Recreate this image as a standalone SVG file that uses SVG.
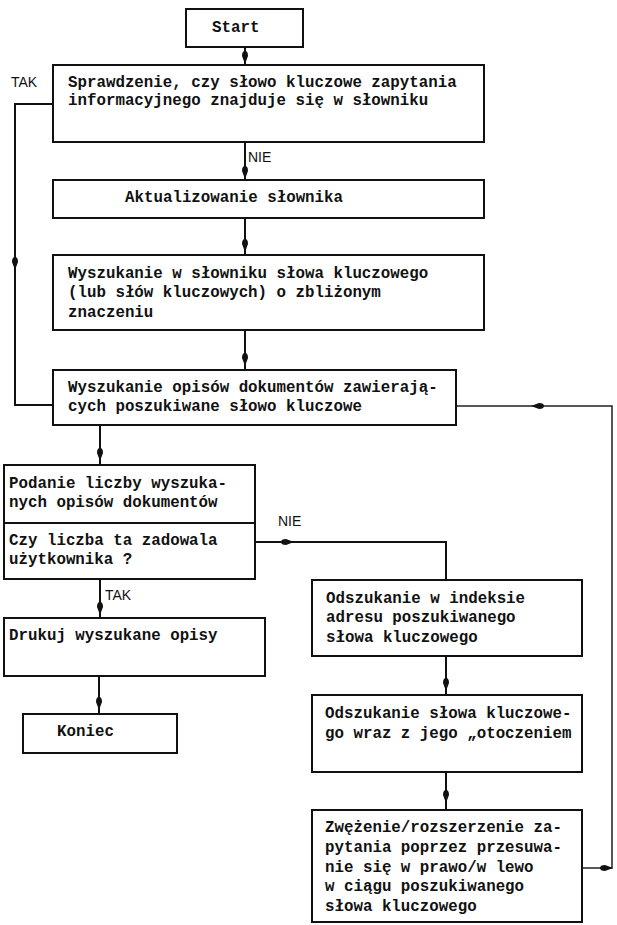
<svg xmlns="http://www.w3.org/2000/svg" xmlns:xlink="http://www.w3.org/1999/xlink" width="617" height="925" viewBox="0 0 617 925">
<style>
.box{fill:#fff;stroke:#111;stroke-width:2}
.ln{fill:none;stroke:#111;stroke-width:2}
.thin{fill:none;stroke:#222;stroke-width:1.5}
text{font-family:"Liberation Mono","DejaVu Sans Mono",monospace;font-size:15.8px;font-weight:bold;fill:#111}
.lbl{font-family:"Liberation Sans","DejaVu Sans",sans-serif;font-size:14px;font-weight:normal}
</style>
<defs>
<path id="ah" d="M0,0 L-3,-8 Q-3,-13 0,-13 Q3,-13 3,-8 Z" fill="#111"/>
</defs>
<rect width="617" height="925" fill="#fff"/>
<g id="connectors">
<line class="ln" x1="245" y1="47" x2="245" y2="65"/>
<use xlink:href="#ah" transform="translate(245,64)"/>
<line class="ln" x1="245" y1="142" x2="245" y2="180"/>
<use xlink:href="#ah" transform="translate(245,179)"/>
<text class="lbl" x="248" y="162">NIE</text>
<line class="ln" x1="245" y1="218" x2="245" y2="255"/>
<use xlink:href="#ah" transform="translate(245,252)"/>
<line class="ln" x1="245" y1="330" x2="245" y2="370"/>
<use xlink:href="#ah" transform="translate(245,366)"/>
<polyline class="ln" points="53,104 15,104 15,405 53,405"/>
<use xlink:href="#ah" transform="translate(15,270)"/>
<text class="lbl" x="11" y="87">TAK</text>
<polyline class="thin" points="456,406 612,406 612,868 582,868"/>
<use xlink:href="#ah" transform="translate(531,406) rotate(90)"/>
<use xlink:href="#ah" transform="translate(613,868) rotate(-90)"/>
<line class="ln" x1="100" y1="425" x2="100" y2="465"/>
<use xlink:href="#ah" transform="translate(100,461)"/>
<polyline class="ln" points="255,542 446,542 446,580"/>
<use xlink:href="#ah" transform="translate(294,542) rotate(-90)"/>
<text class="lbl" x="278" y="526">NIE</text>
<line class="ln" x1="100" y1="579" x2="100" y2="618"/>
<use xlink:href="#ah" transform="translate(100,615)"/>
<text class="lbl" x="105" y="600">TAK</text>
<line class="ln" x1="99" y1="676" x2="99" y2="714"/>
<use xlink:href="#ah" transform="translate(99,710)"/>
<line class="ln" x1="446" y1="656" x2="446" y2="695"/>
<use xlink:href="#ah" transform="translate(446,691)"/>
<line class="ln" x1="446" y1="772" x2="446" y2="810"/>
<use xlink:href="#ah" transform="translate(446,803)"/>
</g>
<g id="start">
<rect class="box" x="186" y="9" width="117" height="38"/>
<text x="212" y="32">Start</text>
</g>
<g id="check">
<rect class="box" x="53" y="65" width="431" height="77"/>
<text x="68" y="87">Sprawdzenie, czy słowo kluczowe zapytania</text>
<text x="68" y="105">informacyjnego znajduje się w słowniku</text>
</g>
<g id="update">
<rect class="box" x="53" y="180" width="431" height="38"/>
<text x="125" y="202">Aktualizowanie słownika</text>
</g>
<g id="similar">
<rect class="box" x="53" y="255" width="431" height="75"/>
<text x="68" y="278">Wyszukanie w słowniku słowa kluczowego</text>
<text x="68" y="297">(lub słów kluczowych) o zbliżonym</text>
<text x="68" y="317">znaczeniu</text>
</g>
<g id="search">
<rect class="box" x="53" y="370" width="403" height="55"/>
<text x="68" y="392">Wyszukanie opisów dokumentów zawierają-</text>
<text x="68" y="411">cych poszukiwane słowo kluczowe</text>
</g>
<g id="count">
<rect class="box" x="4" y="465" width="251" height="114"/>
<line class="ln" x1="4" y1="523" x2="255" y2="523"/>
<text x="9" y="488">Podanie liczby wyszuka-</text>
<text x="9" y="507">nych opisów dokumentów</text>
<text x="9" y="545">Czy liczba ta zadowala</text>
<text x="9" y="564">użytkownika ?</text>
</g>
<g id="index">
<rect class="box" x="312" y="580" width="270" height="76"/>
<text x="326" y="603">Odszukanie w indeksie</text>
<text x="326" y="622">adresu poszukiwanego</text>
<text x="326" y="642">słowa kluczowego</text>
</g>
<g id="print">
<rect class="box" x="4" y="618" width="261" height="58"/>
<text x="9" y="640">Drukuj wyszukane opisy</text>
</g>
<g id="end">
<rect class="box" x="23" y="714" width="154" height="39"/>
<text x="57" y="736">Koniec</text>
</g>
<g id="context">
<rect class="box" x="312" y="695" width="270" height="77"/>
<text x="325" y="718">Odszukanie słowa kluczowe-</text>
<text x="325" y="738">go wraz z jego „otoczeniem</text>
</g>
<g id="narrow">
<rect class="box" x="312" y="810" width="270" height="112"/>
<text x="325" y="832">Zwężenie/rozszerzenie za-</text>
<text x="325" y="852">pytania poprzez przesuwa-</text>
<text x="325" y="872">nie się w prawo/w lewo</text>
<text x="325" y="891">w ciągu poszukiwanego</text>
<text x="325" y="911">słowa kluczowego</text>
</g>
</svg>
